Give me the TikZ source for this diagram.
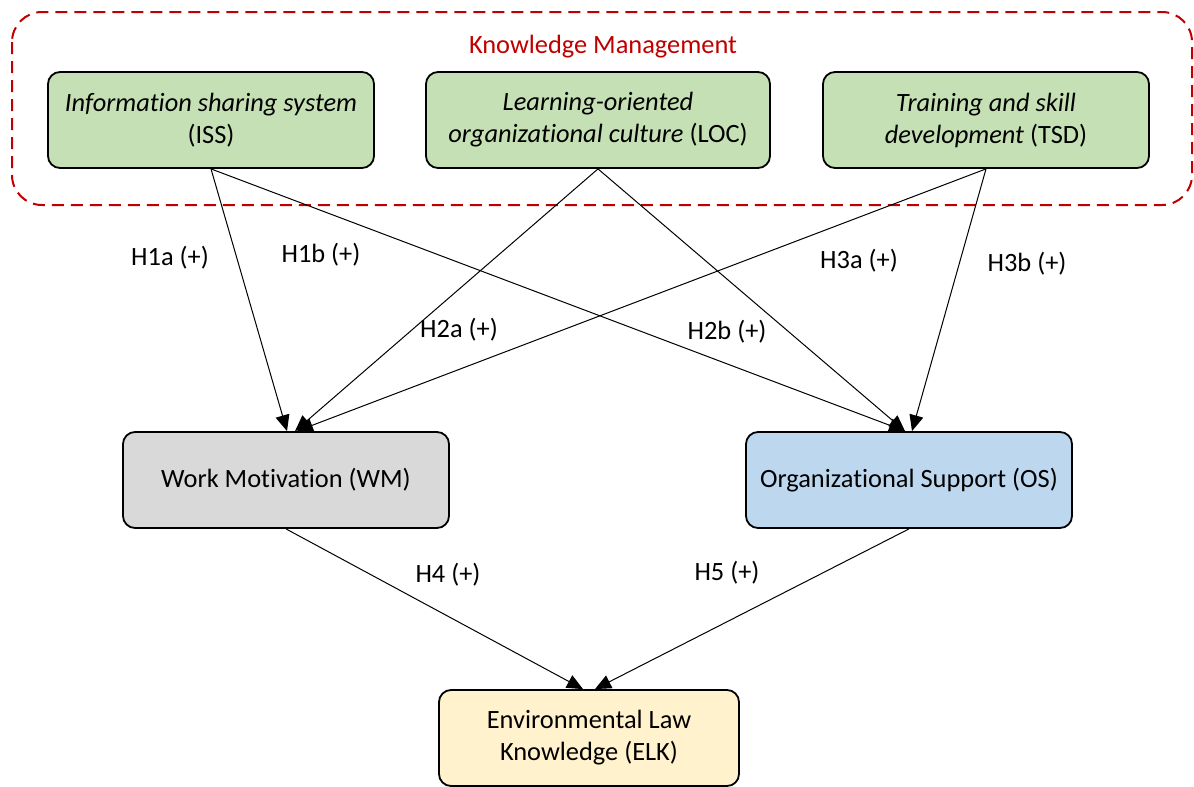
\documentclass[tikz,border=0pt]{standalone}
\usepackage{fontspec}
\setmainfont{Carlito}[Ligatures=NoCommon]
\usetikzlibrary{arrows.meta, positioning}
\definecolor{KG}{RGB}{197,224,180}
\definecolor{KA}{RGB}{217,217,217}
\definecolor{KB}{RGB}{189,215,238}
\definecolor{KY}{RGB}{255,242,204}
\definecolor{KR}{RGB}{192,0,0}
\begin{document}
\begin{tikzpicture}[x=0.5pt, y=-0.5pt,
  km/.style={draw, line width=0.9pt, rounded corners=6pt, fill=#1,
             minimum width=163pt, minimum height=48pt,
             font=\fontsize{13.2}{16}\selectfont, align=center},
  hyp/.style={font=\fontsize{13.2}{15}\selectfont},
  arr/.style={draw, line width=0.5pt, -{Triangle[length=8pt, width=7pt]}}
]
\useasboundingbox (0,0) rectangle (1194,787);

% Knowledge management group
\draw[KR, line width=1pt, dash pattern=on 6pt off 3.5pt, rounded corners=15pt]
  (12,12) rectangle (1192,205);
\node[text=KR, hyp] (KM) at (603,47) {Knowledge Management};

\node[km=KG] (ISS) at (211,120) {\textit{Information sharing system}\\(ISS)};
\node[km=KG, minimum width=172pt] (LOC) at (598,120)
  {\textit{Learning-oriented}\\\textit{organizational culture} (LOC)};
\node[km=KG] (TSD) at (986,120) {\textit{Training and skill}\\\textit{development} (TSD)};

% Mediators
\node[km=KA] (WM) at (286,480) {Work Motivation (WM)};
\node[km=KB] (OS) at (909,480) {Organizational Support (OS)};

% Outcome
\node[km=KY, minimum width=150pt] (ELK) at (589,738)
  {Environmental Law\\Knowledge (ELK)};

% Hypotheses H1--H3
\draw[arr] (ISS.south) -- ([xshift=0.5pt]WM.north);
\draw[arr] (ISS.south) -- ([xshift=-2pt]OS.north);
\draw[arr] (LOC.south) -- ([xshift=4.5pt]WM.north);
\draw[arr] (LOC.south) -- ([xshift=-2pt]OS.north);
\draw[arr] (TSD.south) -- ([xshift=5.5pt]WM.north);
\draw[arr] (TSD.south) -- ([xshift=1.5pt]OS.north);

% Hypotheses H4--H5
\draw[arr] (WM.south) -- ([xshift=-3pt]ELK.north);
\draw[arr] (OS.south) -- ([xshift=3pt]ELK.north);

\node[hyp] (H1a) at (170,258) {H1a (+)};
\node[hyp] (H1b) at (321,255) {H1b (+)};
\node[hyp] (H2a) at (459,330) {H2a (+)};
\node[hyp] (H2b) at (727,332) {H2b (+)};
\node[hyp] (H3a) at (859,261) {H3a (+)};
\node[hyp] (H3b) at (1027,264) {H3b (+)};
\node[hyp] (H4) at (448,575) {H4 (+)};
\node[hyp] (H5) at (727,573) {H5 (+)};
\end{tikzpicture}
\end{document}
